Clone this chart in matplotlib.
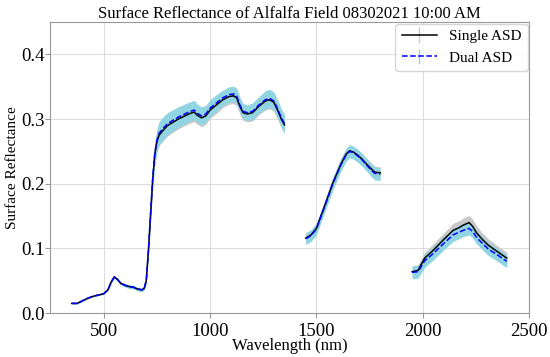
import numpy as np
import matplotlib
matplotlib.use("Agg")
import matplotlib.pyplot as plt

plt.rcParams["font.family"] = ["Liberation Serif", "DejaVu Serif"]

# segment 1: VNIR
wl1 = [350, 375, 400, 425, 450, 475, 500, 520, 535, 550, 565, 580, 600, 620,
       640, 660, 680, 690, 700, 710, 720, 730, 740, 750, 760, 780, 800, 850,
       900, 925, 940, 960, 980, 1000, 1030, 1060, 1090, 1110, 1125, 1140, 1155,
       1175, 1200, 1230, 1260, 1280, 1300, 1320, 1335, 1350]
single1 = [0.015, 0.015, 0.019, 0.023, 0.026, 0.028, 0.030, 0.036, 0.048, 0.056,
           0.052, 0.046, 0.043, 0.041, 0.040, 0.037, 0.036, 0.038, 0.050, 0.095,
           0.150, 0.205, 0.245, 0.265, 0.275, 0.283, 0.290, 0.300, 0.308, 0.311,
           0.306, 0.302, 0.305, 0.314, 0.322, 0.330, 0.335, 0.336, 0.333, 0.320,
           0.310, 0.308, 0.310, 0.320, 0.328, 0.330, 0.326, 0.312, 0.300, 0.291]
dual1 = [0.015, 0.015, 0.019, 0.023, 0.026, 0.028, 0.030, 0.036, 0.048, 0.056,
         0.052, 0.046, 0.043, 0.041, 0.040, 0.037, 0.036, 0.038, 0.050, 0.096,
         0.152, 0.207, 0.247, 0.267, 0.278, 0.286, 0.293, 0.303, 0.311, 0.314,
         0.309, 0.305, 0.308, 0.317, 0.325, 0.333, 0.338, 0.339, 0.336, 0.322,
         0.312, 0.310, 0.312, 0.322, 0.330, 0.332, 0.328, 0.314, 0.302, 0.293]
sd_single1 = [0.001, 0.001, 0.001, 0.001, 0.001, 0.001, 0.001, 0.001, 0.002, 0.002,
              0.002, 0.002, 0.002, 0.002, 0.002, 0.002, 0.002, 0.002, 0.003, 0.006,
              0.010, 0.013, 0.015, 0.016, 0.016, 0.016, 0.016, 0.015, 0.015, 0.015,
              0.014, 0.014, 0.013, 0.013, 0.013, 0.012, 0.012, 0.012, 0.012, 0.012,
              0.012, 0.012, 0.013, 0.013, 0.014, 0.014, 0.014, 0.014, 0.014, 0.014]
sd_dual1 = [0.001, 0.001, 0.001, 0.001, 0.001, 0.001, 0.001, 0.001, 0.002, 0.002,
            0.002, 0.002, 0.003, 0.003, 0.003, 0.003, 0.003, 0.003, 0.004, 0.007,
            0.012, 0.015, 0.017, 0.018, 0.018, 0.018, 0.017, 0.016, 0.015, 0.015,
            0.014, 0.014, 0.013, 0.013, 0.013, 0.012, 0.012, 0.012, 0.012, 0.012,
            0.012, 0.012, 0.013, 0.013, 0.014, 0.014, 0.014, 0.014, 0.014, 0.014]

# segment 2: SWIR1
wl2 = [1450, 1475, 1500, 1538, 1577, 1616, 1640, 1656, 1675, 1695, 1715, 1734,
       1755, 1774, 1800]
single2 = [0.116, 0.121, 0.131, 0.165, 0.201, 0.231, 0.246, 0.251, 0.249, 0.244,
           0.238, 0.231, 0.224, 0.218, 0.217]
dual2 = [0.115, 0.120, 0.130, 0.164, 0.200, 0.230, 0.245, 0.250, 0.248, 0.243,
         0.237, 0.230, 0.222, 0.216, 0.215]
sd_single2 = [0.008, 0.008, 0.008, 0.008, 0.009, 0.009, 0.009, 0.009, 0.009, 0.009,
              0.009, 0.009, 0.009, 0.009, 0.009]
sd_dual2 = [0.009, 0.009, 0.009, 0.009, 0.010, 0.010, 0.010, 0.010, 0.010, 0.010,
            0.010, 0.010, 0.010, 0.010, 0.010]

# segment 3: SWIR2
wl3 = [1950, 1978, 2009, 2049, 2096, 2143, 2170, 2190, 2218, 2235, 2253, 2280,
       2308, 2347, 2395]
single3 = [0.064, 0.066, 0.085, 0.097, 0.113, 0.128, 0.132, 0.136, 0.140, 0.134,
           0.124, 0.114, 0.105, 0.096, 0.085]
dual3 = [0.063, 0.064, 0.081, 0.092, 0.107, 0.121, 0.125, 0.128, 0.131, 0.126,
         0.117, 0.108, 0.099, 0.091, 0.080]
sd_single3 = [0.008, 0.009, 0.009, 0.010, 0.010, 0.011, 0.011, 0.011, 0.011, 0.011,
              0.011, 0.010, 0.010, 0.009, 0.009]
sd_dual3 = [0.010, 0.010, 0.010, 0.010, 0.010, 0.010, 0.010, 0.010, 0.010, 0.010,
            0.010, 0.010, 0.010, 0.010, 0.010]

segments = [
    (wl1, single1, dual1, sd_single1, sd_dual1),
    (wl2, single2, dual2, sd_single2, sd_dual2),
    (wl3, single3, dual3, sd_single3, sd_dual3),
]

band_single = "#c9c9c9"
band_dual = "#91d5e2"

fig, ax = plt.subplots(figsize=(5.5, 3.57), dpi=100)
fig.subplots_adjust(left=0.091, right=0.962, bottom=0.123, top=0.938)

for wl, s, d, ss, sd in segments:
    wl = np.array(wl)
    s, d, ss, sd = map(np.array, (s, d, ss, sd))
    ax.fill_between(wl, s - ss, s + ss, color=band_single, lw=0, zorder=1)
    ax.fill_between(wl, d - sd, d + sd, color=band_dual, lw=0, zorder=2)
    ax.plot(wl, s, color="black", lw=1.1, zorder=3)
    ax.plot(wl, d, color="blue", ls="--", lw=1.1, zorder=4)

# empty errorbars only for the legend handles
h1 = ax.errorbar([np.nan], [np.nan], yerr=[0.01], color="black", lw=1.1,
                 ecolor=band_single, elinewidth=1)
h2 = ax.errorbar([np.nan], [np.nan], yerr=[0.01], color="blue", ls="--", lw=1.1,
                 ecolor=band_dual, elinewidth=1)
leg = ax.legend([h1, h2], ["Single ASD", "Dual ASD"], loc="upper right",
                fontsize=11, borderaxespad=0.1, fancybox=True, handlelength=2.3)

ax.set_ylim(0, 0.45)
ax.set_xticks([500, 1000, 1500, 2000, 2500])
ax.set_yticks([0.0, 0.1, 0.2, 0.3, 0.4])
ax.tick_params(axis="both", labelsize=13.5, color="#999999")
ax.tick_params(axis="y", pad=0.5)
ax.grid(True, color="#dddddd", lw=0.8)
ax.set_axisbelow(True)
for sp in ax.spines.values():
    sp.set_color("#999999")

ax.set_title("Surface Reflectance of Alfalfa Field 08302021 10:00 AM", fontsize=12, pad=2)
ax.set_xlabel("Wavelength (nm)", fontsize=12, labelpad=-1)
ax.set_ylabel("Surface Reflectance", fontsize=11)
ax.yaxis.set_label_coords(-0.064, 0.5)

fig.savefig("out.png", dpi=100)
